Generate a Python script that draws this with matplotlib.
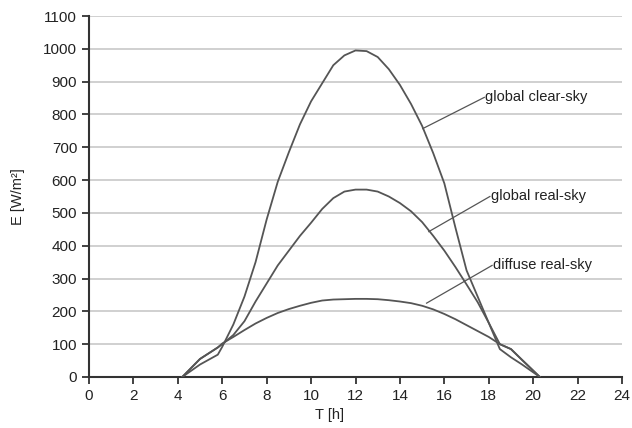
import matplotlib
matplotlib.use("Agg")
import matplotlib.pyplot as plt

plt.rcParams['font.family'] = ['Liberation Sans', 'DejaVu Sans']

# hours of the day
hours = [4.2, 5.0, 5.8, 6.0, 6.5, 7.0, 7.5, 8.0, 8.5, 9.0, 9.5, 10.0, 10.5, 11.0,
         11.5, 12.0, 12.5, 13.0, 13.5, 14.0, 14.5, 15.0, 15.5, 16.0, 16.5, 17.0,
         17.5, 18.0, 18.5, 19.0, 19.5, 20.3]

# irradiance in W/m2
clear_sky = [0, 38, 68, 92, 160, 245, 350, 480, 595, 685, 770, 840, 895, 950,
             980, 995, 993, 975, 938, 890, 832, 765, 682, 590, 455, 325,
             245, 165, 85, 60, 38, 0]
global_real = [0, 55, 90, 100, 128, 170, 230, 285, 340, 385, 430, 470, 512, 545,
               565, 571, 571, 565, 550, 530, 505, 472, 430, 385, 335, 282,
               228, 165, 100, 85, 52, 0]
diffuse_real = [0, 55, 90, 102, 122, 143, 163, 180, 195, 207, 217, 226, 233, 236,
                237, 238, 238, 237, 234, 230, 225, 217, 206, 192, 176, 158,
                140, 122, 100, 85, 52, 0]

labels = ["global clear-sky", "global real-sky", "diffuse real-sky"]
# (point on curve, text anchor) for the leader lines
label_from = [(15.03, 757), (15.3, 443), (15.2, 225)]
label_to = [(17.8, 852), (18.05, 550), (18.15, 340)]

line_col = "#555555"
fig = plt.figure(figsize=(6.32, 4.28), dpi=100)
ax = fig.add_axes([0.1408, 0.1192, 0.8434, 0.8434])

for y in [clear_sky, global_real, diffuse_real]:
    ax.plot(hours, y, color=line_col, lw=1.3, zorder=3)

for lab, p0, p1 in zip(labels, label_from, label_to):
    ax.plot([p0[0], p1[0]], [p0[1], p1[1]], color=line_col, lw=0.9, zorder=3)
    ax.text(p1[0] + 0.05, p1[1], lab, fontsize=10.5, color="#222222",
            va="center", ha="left")

ax.set_xlim(0, 24)
ax.set_ylim(0, 1100)
ax.set_xticks(range(0, 25, 2))
ax.set_yticks(range(0, 1101, 100))
ax.yaxis.grid(True, color="#c8c8c8", lw=1.2)
ax.set_axisbelow(True)

for s in ["top", "right"]:
    ax.spines[s].set_visible(False)
for s in ["left", "bottom"]:
    ax.spines[s].set_color("#333333")
    ax.spines[s].set_linewidth(1.5)
ax.tick_params(direction="out", length=5, width=1.3, color="#333333",
               labelsize=11, labelcolor="#222222")

ax.set_xlabel("T [h]", fontsize=10.5, color="#222222")
ax.set_ylabel("E [W/m²]", fontsize=10.5, color="#222222")
ax.xaxis.set_label_coords(0.452, -0.085)
ax.yaxis.set_label_coords(-0.12, 0.5)

fig.savefig("out.png", dpi=100)
